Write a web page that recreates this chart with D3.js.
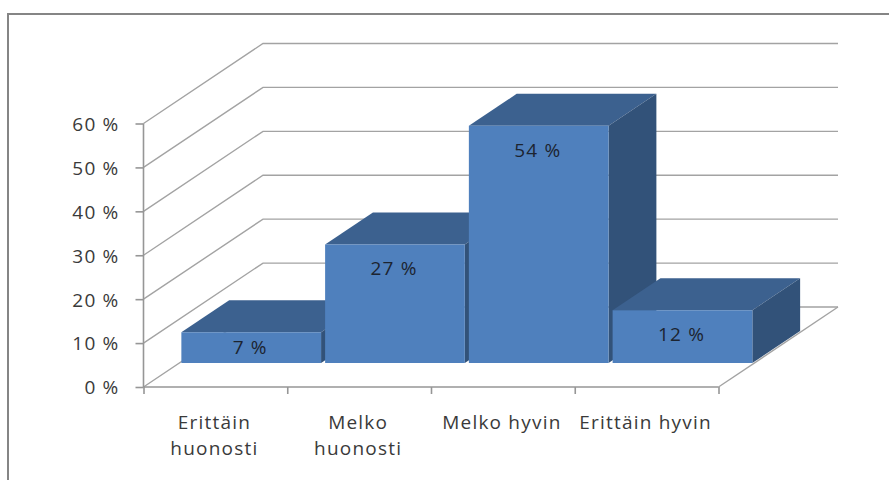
<!DOCTYPE html>
<html>
<head>
<meta charset="utf-8">
<script src="https://cdn.jsdelivr.net/npm/d3@7"></script>
<style>
  html, body { margin: 0; padding: 0; background: #fff; overflow: hidden; }
  text { font-family: "Open Sans", sans-serif; font-size: 19px; letter-spacing: 1.2px; fill: #3a3a3a; }
  .value { fill: #1c2430; }
</style>
</head>
<body>
<svg id="chart" width="889" height="480"></svg>
<script>
// Survey answers, percentages of respondents
const categories = [["Erittäin", "huonosti"], ["Melko", "huonosti"], ["Melko hyvin"], ["Erittäin hyvin"]];
const values = [7, 27, 54, 12];
const yTicks = [0, 10, 20, 30, 40, 50, 60];

const svg = d3.select("#chart");

// Frame around the chart area
svg.append("rect")
  .attr("x", 8).attr("y", 14).attr("width", 900).attr("height", 490)
  .attr("fill", "none").attr("stroke", "#858585").attr("stroke-width", 2);

// Oblique projection: category along x, value up, depth running back and to the right
const x = d3.scaleBand().domain(d3.range(categories.length)).range([143.5, 718.5])
  .paddingInner(0.028).paddingOuter(0.014);
const slots = d3.scaleLinear().domain([0, categories.length]).range([143.5, 718.5]);
const y = d3.scaleLinear().domain([0, 60]).range([387, 123.5]);
const depthX = d3.scaleLinear().domain([0, 1]).range([0, 119.5]);
const depthY = d3.scaleLinear().domain([0, 1]).range([0, -80]);
const backRight = 838;
const barFront = 0.3, barBack = 0.7;

const gridColor = "#a3a3a3";
const grid = svg.append("g").attr("fill", "none").attr("stroke", gridColor).attr("stroke-width", 1.4);

// Wall gridlines: up the side wall, then along the back wall
grid.selectAll("path.wall").data(yTicks).join("path")
  .attr("class", "wall")
  .attr("d", t => {
    const p = d3.path();
    p.moveTo(slots(0), y(t));
    p.lineTo(slots(0) + depthX(1), y(t) + depthY(1));
    p.lineTo(backRight, y(t) + depthY(1));
    return p.toString();
  });

// Right edge of the floor
grid.append("path").attr("d", () => {
  const p = d3.path();
  p.moveTo(slots(categories.length), y(0));
  p.lineTo(backRight, y(0) + depthY(1));
  return p.toString();
});

// Value axis
svg.append("g")
  .attr("transform", `translate(${slots(0)},0)`)
  .call(d3.axisLeft(y).tickValues(yTicks).tickSize(8).tickPadding(16).tickFormat(d => d + " %"))
  .call(g => g.selectAll("path,line").attr("stroke", "#969696").attr("stroke-width", 1.6))
  .call(g => g.select(".domain").attr("d", `M0,${y(0)}V${y(60)}`))
  .call(g => g.selectAll("text").attr("font-family", null).attr("font-size", null).attr("dy", "0.36em"));

// Category axis with ticks on the slot boundaries
svg.append("g")
  .attr("transform", `translate(0,${y(0)})`)
  .call(d3.axisBottom(slots).tickValues(d3.range(categories.length + 1)).tickSize(7).tickFormat(""))
  .call(g => g.selectAll("path,line").attr("stroke", "#969696").attr("stroke-width", 1.6))
  .call(g => g.select(".domain").attr("d", `M${slots(0)},0H${slots(categories.length)}`));

// Category labels, one or two lines
const catLabels = svg.append("g").attr("text-anchor", "middle");
categories.forEach((lines, i) => {
  lines.forEach((line, j) => {
    catLabels.append("text")
      .attr("x", slots(i + 0.5) - 1)
      .attr("y", 429 + j * 26)
      .text(line);
  });
});

// Corner of a bar at a given position along x, value and depth
const corner = (px, v, d) => [px + depthX(d), y(v) - y(0) + depthY(d)];
const floorY = y(0);
const poly = pts => "M" + pts.map(p => [p[0], p[1] + floorY].join(",")).join("L") + "Z";

const bars = svg.selectAll("g.bar").data(values).join("g").attr("class", "bar");

// Top face
bars.append("path").attr("fill", "#3c618f")
  .attr("d", (v, i) => {
    const l = x(i), r = x(i) + x.bandwidth();
    return poly([corner(l, v, barFront), corner(r, v, barFront), corner(r, v, barBack), corner(l, v, barBack)]);
  });

// Side face
bars.append("path").attr("fill", "#325279")
  .attr("d", (v, i) => {
    const r = x(i) + x.bandwidth();
    return poly([corner(r, 0, barFront), corner(r, v, barFront), corner(r, v, barBack), corner(r, 0, barBack)]);
  });

// Front face
bars.append("path").attr("fill", "#4f80bd")
  .attr("d", (v, i) => {
    const l = x(i), r = x(i) + x.bandwidth();
    return poly([corner(l, 0, barFront), corner(r, 0, barFront), corner(r, v, barFront), corner(l, v, barFront)]);
  });

// Value labels on the front faces
bars.append("text")
  .attr("class", "value")
  .attr("text-anchor", "middle")
  .attr("dy", "0.36em")
  .attr("x", (v, i) => x(i) + x.bandwidth() / 2 + depthX(barFront) - 1)
  .attr("y", v => {
    const top = corner(0, v, barFront)[1] + floorY;
    const bottom = corner(0, 0, barFront)[1] + floorY;
    return top + Math.min(24, (bottom - top) / 2);
  })
  .text(v => v + " %");
</script>
</body>
</html>
